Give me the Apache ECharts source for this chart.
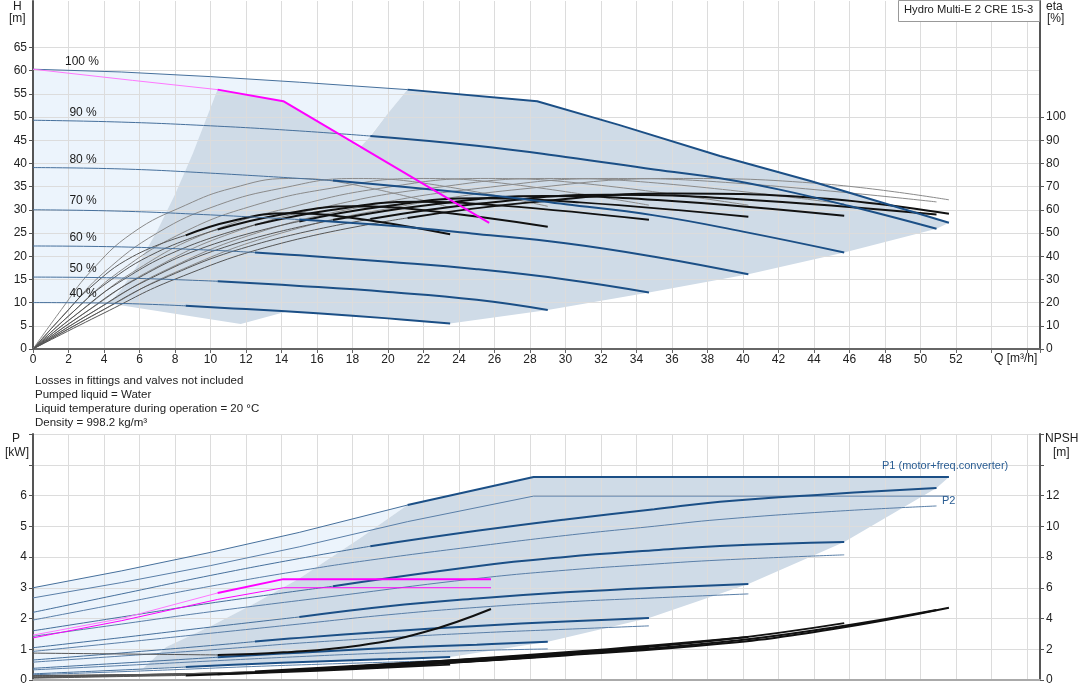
<!DOCTYPE html>
<html><head><meta charset="utf-8">
<script src="https://cdn.jsdelivr.net/npm/echarts@6/dist/echarts.min.js"></script>
<style>html,body{margin:0;padding:0;background:#fff}#c{width:1082px;height:700px}</style>
</head><body><div id="c"></div>
<script>
// ---------------- DATA ----------------
const SPEED_NAMES = ['100 %','90 %','80 %','70 %','60 %','50 %','40 %'];
const SPEED_LABEL_Q = [1.8,2.05,2.05,2.05,2.05,2.05,2.05];
const SPEED_LABEL_H = [61.9,51,40.9,31.9,24,17.4,12];

const H_TICKS = [0,5,10,15,20,25,30,35,40,45,50,55,60,65];
const ETA_TICKS = [0,10,20,30,40,50,60,70,80,90,100];

// QH curves (top panel, H in m)
const QH_Q = [
  [0,5,10,15,21.1,28.4,33,38.7,43.8,51.6],
  [0,5,10,15,19,25,30,35,38.7,42,46,50.9],
  [0,5,10,16.9,25,30,35,40,45.7],
  [0,5,10,15,20,25,30,35,40.3],
  [0,5,10,12.5,15,20,25,30,34.7],
  [0,5,10.4,15,20,25,29],
  [0,4,8.6,12,16,20,23.5]
];
const QH_H = [
  [60.3,59.7,58.7,57.5,55.9,53.4,48.3,41.6,36.2,27.2],
  [49.3,48.9,48.1,47,45.9,43.8,41.4,38.7,36.8,34.4,30.8,25.9],
  [39.1,38.8,37.9,36.3,33.4,31.2,28.8,25.3,20.8],
  [30,29.7,28.9,27.9,26.6,24.8,22.8,19.9,16.1],
  [22.2,22,21.3,20.8,20.2,18.8,17.2,15,12.2],
  [15.5,15.3,14.6,13.6,12.3,10.6,8.4],
  [10,9.9,9.3,8.6,7.7,6.6,5.5]
];
const QH_THICK_FROM = [4,4,3,3,3,2,2];

// efficiency curves (top panel, eta in %)
const ETA_Q = [
  [0,4,8,14,21.1,28,36,44,51.6],
  [0,3.6,7.2,12.6,19,25.2,32.4,39.6,50.9],
  [0,3.2,6.4,11.2,16.9,22.4,28.8,35.2,45.7],
  [0,2.8,5.6,9.8,15,19.6,25.2,30.8,40.3],
  [0,2.4,4.8,8.4,12.5,16.8,21.6,26.4,34.7],
  [0,2,4,7,10.4,14,18,22,29],
  [0,1.6,3.2,5.6,8.6,11.2,14.4,17.6,23.5]
];
const ETA_TOTAL = [
  [0,15.5,30.1,45.6,56.5,63.2,67,65.2,58.3],
  [0,15.4,29.9,45.2,56,62.7,66.5,64.7,58],
  [0,15.2,29.6,44.9,55.6,62.2,66,64.2,57.4],
  [0,15,29.2,44.2,55,61.3,65,63.2,57],
  [0,14.7,28.5,43.2,53.5,59.9,63.5,61.8,55.7],
  [0,14.2,27.6,41.8,51.5,58,61.5,59.8,52.7],
  [0,13.5,26.3,39.8,49,55.2,58.5,56.9,49.5]
];
const ETA_PUMP = [
  [0,17,33,50,62,69.3,73.5,71.5,64.3],
  [0,17,33,50,62,69.3,73.5,71.5,63.4],
  [0,17,33,50,62,69.3,73.5,71.5,62.5],
  [0,17,33,50,62,69.3,73.5,71.5,62],
  [0,17,33,50,62,69.3,73.5,71.5,62],
  [0,17,33,50,62,69.3,73.5,71.5,61.5],
  [0,17,33,50,62,69.3,73.5,71.5,61]
];
const ETA_THICK_FROM = 4;

// magenta duty curves
const MAG_Q = [0,5.6,10.4,14.1,25.7];
const MAG_H = [60.3,57.9,55.9,53.4,27.2];
const MAG_P_Q = [0,5,10.4,14.1,25.8];
const MAG_P1 = [1.46,2.0,2.83,3.28,3.28];
const MAG_P2 = [1.37,1.93,2.62,3.0,3.0];
const MAG_NPSH_Q = [0,10.4,14.1,18.4,22,25.8];
const MAG_NPSH = [1.75,1.63,1.8,2.25,3.1,4.62];
const MAG_THICK_FROM = 2;

// power curves (bottom panel, kW)
const P_Q = [
  [0,5,10,15,21.1,28.2,51.6],
  [0,5,10,15,19,25,30,35,38.7,45,50.9],
  [0,5,10,16.9,25,30,35,38.7,45.7],
  [0,5,10,15,20,25,30,35,40.3],
  [0,5,10,12.5,15,20,25,30,34.7],
  [0,5,10.4,15,20,25,29],
  [0,4,8.6,12,16,20,23.5]
];
const P1 = [
  [3.0,3.55,4.15,4.8,5.69,6.6,6.6],
  [2.2,2.8,3.4,3.95,4.35,4.85,5.22,5.55,5.8,6.05,6.24],
  [1.6,2.05,2.5,3.05,3.7,4.0,4.22,4.36,4.49],
  [1.05,1.38,1.72,2.05,2.4,2.65,2.85,3.0,3.12],
  [0.65,0.88,1.12,1.25,1.37,1.58,1.76,1.9,2.02],
  [0.38,0.55,0.74,0.89,1.04,1.15,1.24],
  [0.2,0.3,0.42,0.51,0.6,0.68,0.75]
];
const P2 = [
  [2.67,3.17,3.72,4.33,5.15,5.98,5.98],
  [1.95,2.5,3.05,3.55,3.9,4.35,4.7,5.0,5.22,5.48,5.66],
  [1.42,1.82,2.22,2.72,3.3,3.57,3.77,3.9,4.07],
  [0.93,1.22,1.52,1.82,2.12,2.36,2.54,2.67,2.8],
  [0.58,0.78,0.98,1.09,1.2,1.38,1.53,1.65,1.76],
  [0.33,0.47,0.63,0.76,0.88,0.96,1.01],
  [0.17,0.25,0.35,0.43,0.51,0.58,0.64]
];
const P_THICK_FROM = [4,4,3,3,3,2,2];

// NPSH curves (bottom panel, m)
const NPSH_Q = [
  [0,10,21.1,30,38.7,45,51.6],
  [0,10,19,30,38.7,45,50.9],
  [0,10,16.9,30,38.7,45.7],
  [0,10,15,30,40.3],
  [0,10,12.5,30,34.7],
  [0,10.4,20,29],
  [0,8.6,16,23.5]
];
const NPSH = [
  [0.3,0.45,0.95,1.6,2.35,3.3,4.7],
  [0.28,0.45,0.85,1.65,2.45,3.4,4.55],
  [0.25,0.45,0.78,1.75,2.6,3.7],
  [0.2,0.42,0.65,1.8,2.8],
  [0.18,0.4,0.55,1.7,2.1],
  [0.15,0.38,0.9,1.55],
  [0.12,0.3,0.6,1.0]
];
const NPSH_THICK_FROM = [2,2,2,2,2,1,1];

// regions (boundaries)
const TOP_LIGHT = [[0,60.3],[5,59.7],[10,58.7],[15,57.5],[21.1,55.9],[20,50.8],[18,41.1],[16,32.5],[14,24.9],[12,18.3],[10,12.7],[8.6,9.3],[4,9.9],[0,10]];
const TOP_GRAY = [[4.3,9.8],[5,13],[6,18.7],[7,25.5],[8,33.3],[9,42.1],[10.4,55.9],[14.1,53.4],[18.4,43.3],[19,45.8],[20,50.8],[21.1,55.9],[28.4,53.4],[38.7,41.6],[43.8,36.2],[51.6,27.2],[50.9,25.9],[45.7,20.8],[40.3,16.1],[34.7,12.2],[29,8.4],[23.5,5.5],[20,6.6],[16,7.7],[14.3,8.1],[11.7,5.4]];
const BOT_LIGHT = [[0,3.0],[5,3.55],[10,4.15],[15,4.8],[21.1,5.69],[18.4,4.6],[15,3.3],[12.5,2.5],[10,1.75],[7.5,1.07],[6.2,0.37],[4,0.3],[0,0.2]];
const BOT_GRAY = [[21.1,5.69],[18.4,4.6],[15,3.3],[12.5,2.5],[10,1.75],[7.5,1.07],[6.2,0.37],[8.6,0.42],[12,0.51],[16,0.6],[20,0.68],[23.5,0.75],[29,1.24],[34.7,2.02],[40.3,3.12],[45.7,4.49],[50.9,6.24],[51.6,6.6],[28.2,6.6]];

const NOTES = ['Losses in fittings and valves not included','Pumped liquid = Water','Liquid temperature during operation = 20 °C','Density = 998.2 kg/m³'];
const TITLE = 'Hydro Multi-E 2 CRE 15-3';

// ---------------- BUILD ----------------
const FONT = '"Liberation Sans", Arial, sans-serif';
const BLUE = '#1b4f86', BLUE_THIN = '#46709c', P2_COL = '#5a7fa8';
const BLACK = '#111', BLACK_THIN = '#555', PUMP_COL = '#8a8a8a';
const MAG = '#ff00ff', MAG_THIN = '#ff77ff';

function pairs(qs, vs, a, b) { const o = []; for (let i = a; i <= b; i++) o.push([qs[i], vs[i]]); return o; }
function line(xi, yi, data, color, width, smooth, z) {
  return { type:'line', xAxisIndex:xi, yAxisIndex:yi, data, showSymbol:false, symbol:'none',
    smooth: smooth ? 0.45 : false, silent:true, animation:false, z:z||3,
    lineStyle:{color, width} };
}
function split(xi, yi, qs, vs, from, thinC, thickC, smooth, z) {
  const n = qs.length - 1;
  return [line(xi, yi, pairs(qs, vs, 0, from), thinC, 1, smooth, z),
          line(xi, yi, pairs(qs, vs, from, n), thickC, 2, smooth, (z||3)+0.1)];
}
function poly(xi, yi, pts, color, z) {
  return { type:'custom', xAxisIndex:xi, yAxisIndex:yi, z, silent:true, animation:false, data:[[0,0]],
    renderItem:(params, api) => ({ type:'polygon', shape:{ points: pts.map(p => api.coord(p)) }, style:{ fill: color } }) };
}

const series = [];
series.push(poly(0,0,TOP_LIGHT,'#ecf4fc',1));
series.push(poly(0,0,TOP_GRAY,'#cfdbe7',1.1));
series.push(poly(1,2,BOT_LIGHT,'#ecf4fc',1));
series.push(poly(1,2,BOT_GRAY,'#cfdbe7',1.1));

for (let s = 0; s < 7; s++) {
  series.push(line(0,1,pairs(ETA_Q[s],ETA_PUMP[s],0,ETA_Q[s].length-1),PUMP_COL,1,true,3));
  series.push(...split(0,1,ETA_Q[s],ETA_TOTAL[s],ETA_THICK_FROM,BLACK_THIN,BLACK,true,3.2));
  series.push(...split(0,0,QH_Q[s],QH_H[s],QH_THICK_FROM[s],BLUE_THIN,BLUE,s!==0,4));
  series.push(line(1,2,pairs(P_Q[s],P2[s],0,P_Q[s].length-1),P2_COL,1,s!==0,3));
  series.push(...split(1,2,P_Q[s],P1[s],P_THICK_FROM[s],BLUE_THIN,BLUE,s!==0,4));
  series.push(...split(1,3,NPSH_Q[s],NPSH[s],NPSH_THICK_FROM[s],BLACK_THIN,BLACK,true,3.2));
}
series.push(...split(0,0,MAG_Q,MAG_H,MAG_THICK_FROM,MAG_THIN,MAG,false,5));
series.push(...split(1,2,MAG_P_Q,MAG_P1,MAG_THICK_FROM,MAG_THIN,MAG,false,5));
series.push(line(1,2,pairs(MAG_P_Q,MAG_P2,0,MAG_P_Q.length-1),MAG,1,false,5));
series.push(...split(1,3,MAG_NPSH_Q,MAG_NPSH,1,BLACK_THIN,BLACK,true,5));

series.push({ type:'scatter', xAxisIndex:0, yAxisIndex:0, symbolSize:0, silent:true, animation:false, z:6,
  itemStyle:{ opacity:1 },
  data: SPEED_NAMES.map((n,i) => ({ name:n, value:[SPEED_LABEL_Q[i], SPEED_LABEL_H[i]] })),
  label:{ show:true, position:'right', distance:0, formatter:p => p.name, color:'#1a1a1a', opacity:1, fontSize:12, fontFamily:FONT } });

const GRID_COL = '#dcdcdc';
function xAx(gi, labels) {
  return { type:'value', gridIndex:gi, min:0, max:56.73, interval:2, z:2,
    axisLine:{ show:true, onZero:false, lineStyle:{ color: labels ? '#666' : '#aaa', width:2 } },
    axisTick:{ show:labels, length:4, lineStyle:{ color:'#666' } },
    axisLabel:{ show:labels, margin:5, color:'#222', fontSize:12, fontFamily:FONT, formatter:v => v <= 52 ? String(v) : '' },
    splitLine:{ show:true, lineStyle:{ color:GRID_COL, width:1 } } };
}
function yAx(gi, pos, max, interval, labelMax, split, tickVals) {
  const tick = { show:true, length:4, lineStyle:{ color:'#555' } };
  if (tickVals) tick.customValues = tickVals;
  return { type:'value', gridIndex:gi, position:pos, min:0, max, interval, z:2,
    axisLine:{ show:true, lineStyle:{ color:'#555', width:2 } },
    axisTick:tick,
    axisLabel:{ margin:6, color:'#222', fontSize:12, fontFamily:FONT, formatter:v => v <= labelMax ? String(v) : '' },
    splitLine:{ show:split, lineStyle:{ color:GRID_COL, width:1 } } };
}

const txt = (x, y, t, extra) => Object.assign({ type:'text', left:x, top:y, z:100,
  style:{ text:t, fill:'#222', font:'12px ' + FONT } }, extra || {});
const graphic = [
  txt(13, 1, 'H'), txt(9, 13, '[m]'),
  txt(1046, 1, 'eta'), txt(1047, 13, '[%]'),
  txt(12, 433, 'P'), txt(5, 447, '[kW]'),
  txt(1045, 433, 'NPSH'), txt(1053, 447, '[m]'),
  txt(994, 353, 'Q [m³/h]'),
  { type:'rect', left:898, top:0, z:99, shape:{ width:141, height:21 }, style:{ fill:'#fff', stroke:'#999', lineWidth:1 } },
  txt(904, 4, TITLE, { style:{ text:TITLE, fill:'#222', font:'11.2px ' + FONT } }),
  txt(882, 460, 'P1 (motor+freq.converter)', { style:{ text:'P1 (motor+freq.converter)', fill:'#2a5d93', font:'11px ' + FONT } }),
  txt(942, 495, 'P2', { style:{ text:'P2', fill:'#2a5d93', font:'11px ' + FONT } })
];
NOTES.forEach((t, i) => graphic.push(txt(35, 375 + i * 14, t, { style:{ text:t, fill:'#222', font:'11.5px ' + FONT } })));

const chart = echarts.init(document.getElementById('c'), null, { renderer:'canvas' });
chart.setOption({
  animation:false,
  backgroundColor:'#fff',
  grid:[ { left:33, top:1, right:42, height:348 }, { left:33, top:434, right:42, height:246 } ],
  xAxis:[ xAx(0, true), xAx(1, false) ],
  yAxis:[ yAx(0,'left',75,5,65,true,H_TICKS), yAx(0,'right',150,10,100,false,ETA_TICKS), yAx(1,'left',8,1,6,true), yAx(1,'right',16,2,12,false) ],
  graphic,
  series
});
</script></body></html>
